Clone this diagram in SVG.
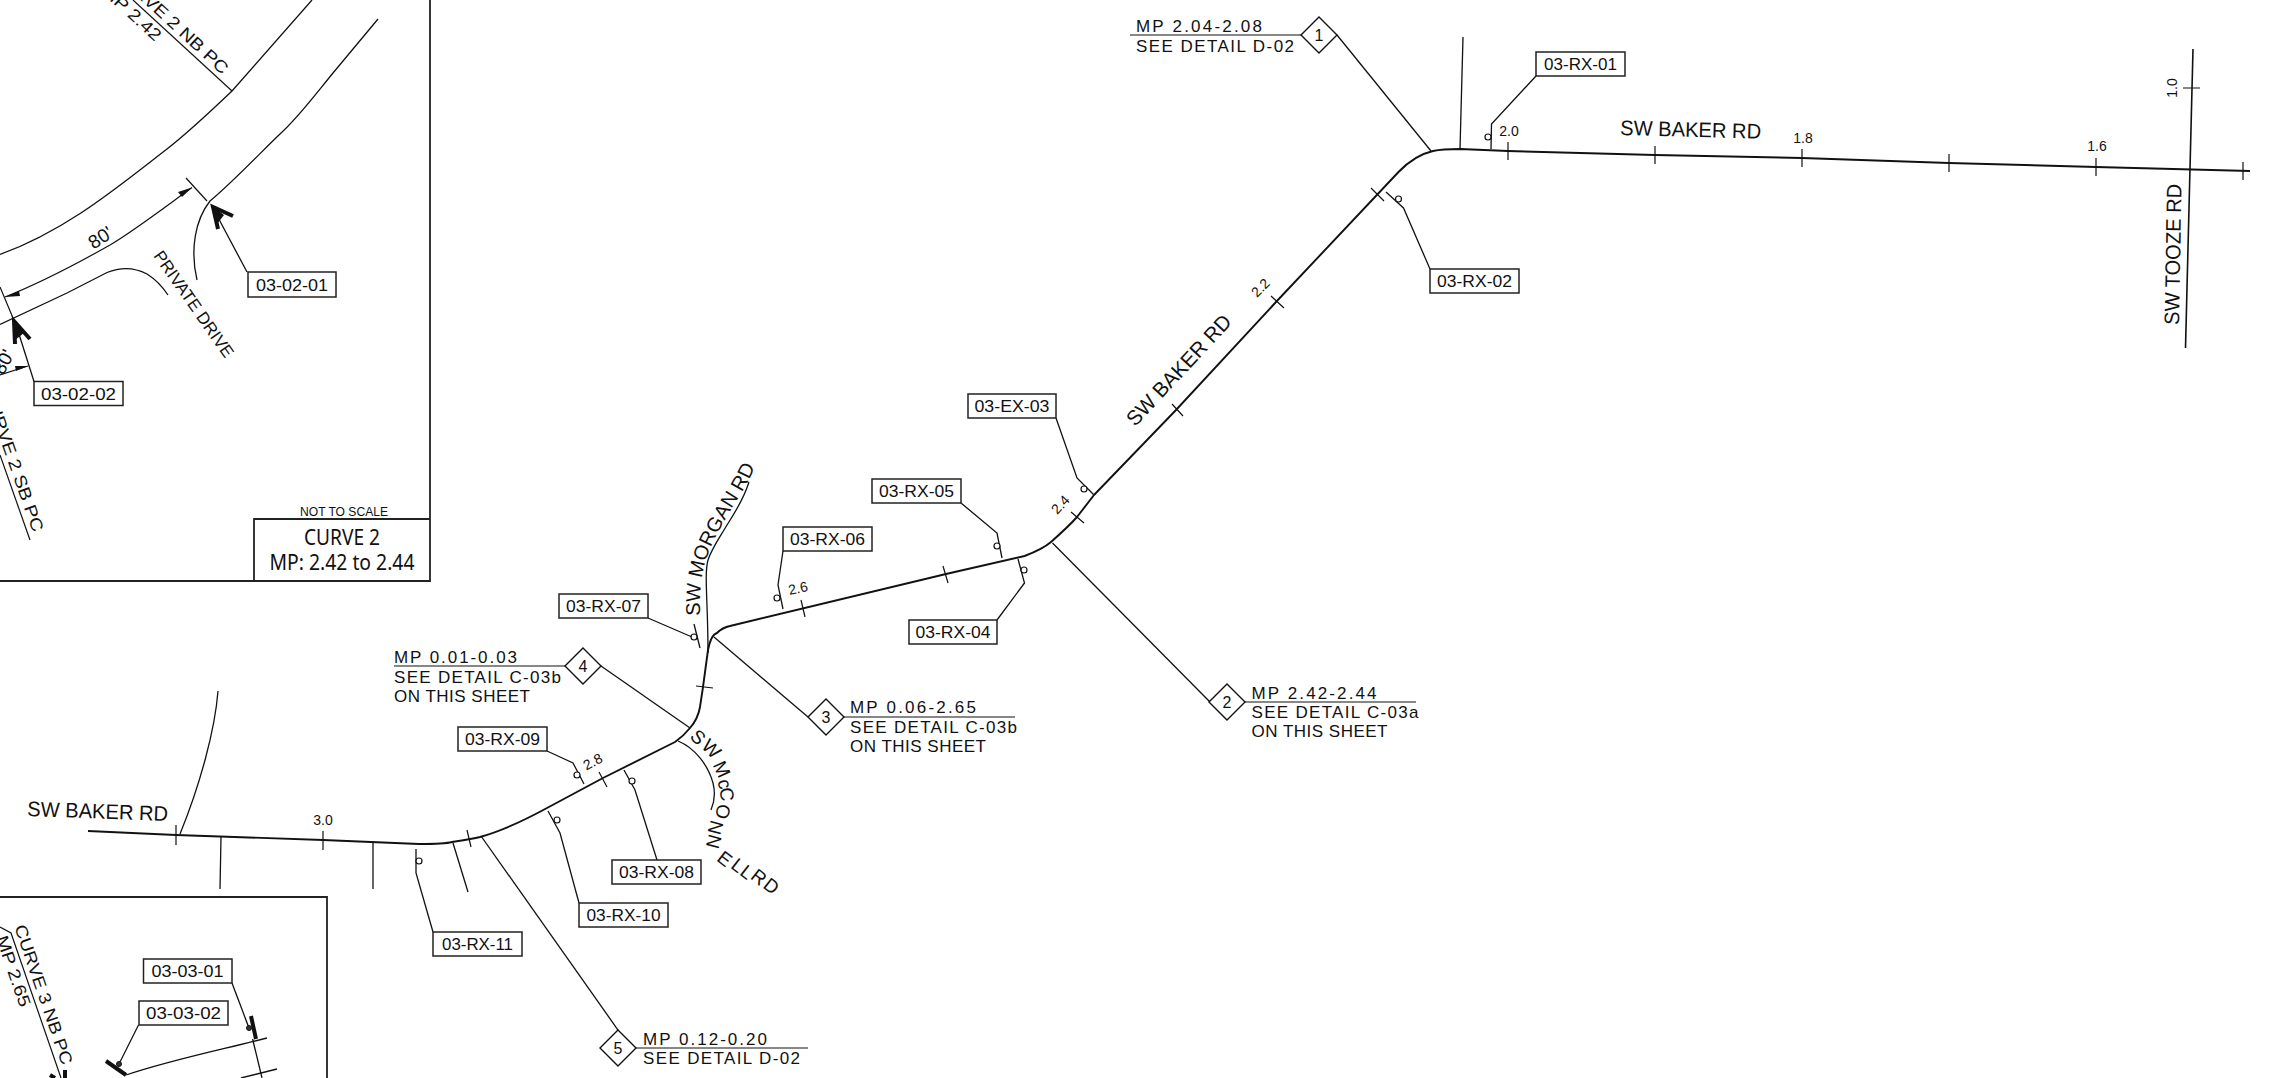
<svg xmlns="http://www.w3.org/2000/svg" width="2270" height="1078" viewBox="0 0 2270 1078">
<style>
text{font-family:"Liberation Sans",Arial,sans-serif;fill:#111}
.l{fill:none;stroke:#111;stroke-width:1.3}
.road{fill:none;stroke:#111;stroke-width:1.9;stroke-linejoin:round}
.frame{fill:none;stroke:#222;stroke-width:1.8}
.t{fill:none;stroke:#111;stroke-width:1.2}
.box{fill:#fff;stroke:#222;stroke-width:1.5}
.lab{font-size:17px;text-anchor:middle}
.note{font-size:17px}
.mp{font-size:14px;text-anchor:middle}
.rn{font-size:21px}
.c{fill:#fff;stroke:#111;stroke-width:1.2}
.dia{fill:#fff;stroke:#111;stroke-width:1.4}
.num{font-size:16px;text-anchor:middle}
.ah{fill:#111;stroke:none}
.bar{stroke:#111;stroke-width:4;fill:none}
.barb{stroke:#111;stroke-width:4;fill:none;stroke-linejoin:miter}
.big{font-family:"Noto Sans",sans-serif;text-anchor:middle}
</style>
<defs>
<path id="morganPath" d="M700 616C699 575 705 555 722 525S745 490 756 465"/>
</defs>

<g id="inset-curve-2">
<path class="frame" d="M430 0V581H0"/>
<path class="frame" d="M254 581V519H430"/>
<path class="l" d="M0 254.500C67 230 117 187.500 167 149C190 131 210 112 232 91L312 0"/>
<path class="l" d="M378 19L333 73C315 95 298 118 280 134C265 148 232 183 210 201C195 220 190 250 197 280"/>
<path class="l" d="M0 324.500L67 293L107 272.500C118 268 132 266 147 274C155 279 162 286 168 295"/>
<path class="t" d="M186 178L207 201M0 287L13 318"/>
<path class="t" d="M192 187.500C165 207 135 230 110 245C80 262 40 283 5 297"/>
<path class="ah" d="M192 187.500L178 192L182 197Z"/>
<path class="ah" d="M5 297L19 291L20 296Z"/>
<path class="t" d="M0 375L28 366"/>
<path class="ah" d="M28 366L15 366L16 371Z"/>
<text transform="translate(104 243) rotate(-33)" font-size="19" text-anchor="middle">80'</text>
<text transform="translate(15 354) rotate(-62)" font-size="19" text-anchor="end">80'</text>
<path class="t" d="M232 91L133 0"/>
<text transform="translate(222 75) rotate(42.600)" class="note" text-anchor="end" textLength="150" lengthAdjust="spacingAndGlyphs">CURVE 2 NB PC</text>
<text transform="translate(155 42) rotate(42.600)" class="note" text-anchor="end" textLength="74" lengthAdjust="spacingAndGlyphs">MP 2.42</text>
<path class="t" d="M0 455L30 540"/>
<text transform="translate(33 533) rotate(70.500)" class="note" text-anchor="end" textLength="150" lengthAdjust="spacingAndGlyphs">CURVE 2 SB PC</text>
<text transform="translate(157 253) rotate(55) translate(0 5)" font-size="17" textLength="126" lengthAdjust="spacingAndGlyphs">PRIVATE DRIVE</text>
<text x="344" y="516" font-size="13.500" style="text-anchor:middle" textLength="88" lengthAdjust="spacingAndGlyphs">NOT TO SCALE</text>
<text x="342" y="545" font-size="21" class="big" textLength="76" lengthAdjust="spacingAndGlyphs">CURVE 2</text>
<text x="342" y="570" font-size="21" class="big" textLength="145" lengthAdjust="spacingAndGlyphs">MP: 2.42 to 2.44</text>
</g>

<g id="inset-curve-3">
<path class="frame" d="M0 897H327V1078"/>
<path class="t" d="M0 927L11 933L61 1078"/>
<text transform="translate(62 1066) rotate(71)" class="note" text-anchor="end" textLength="147" lengthAdjust="spacingAndGlyphs">CURVE 3 NB PC</text>
<text transform="translate(20 1008) rotate(71)" class="note" text-anchor="end" textLength="74" lengthAdjust="spacingAndGlyphs">MP 2.65</text>
<path class="l" d="M126 1075C170 1060 220 1050 267 1038M241 1078L277 1069M252.600 1039L262 1078"/>
<path class="bar" d="M251 1016L256 1039M106 1061L126 1075M65 1070V1078M50 1075L55 1078"/>
</g>

<g id="connectors">
<path class="road" d="M88 831L176 835L323 840L419 844C430 844 445 844 452 842C465 840 472 839 480 837C505 830 525 820 547 808L603 778L675 742C682 737 686 733 690 728C696 721 699 713 700 707L703 687L708 650C710 640 713 634 717 633C720 630 725 627 730 626L946 574L1024.600 556C1035 552 1044 548 1051 542C1060 534 1070 525 1077 517L1094 495L1176 410L1276 302L1398.500 172C1410 160 1420 154 1433 151C1442 149 1450 149 1460 149L1508 151L1655 155L1802 158L1949 163L2096 167L2250 171"/>
<path class="road" d="M2193 49L2185.500 348" style="stroke-width:1.600"/>
<g class="t">
<path d="M176 825V845M323 831V850M467 830L471 847M599 772L607 787M696 686L713 688M801 600L805 617M943 566L948 583M1071 512L1084 523M1172 404L1183 416M1271 296L1284 308M1371 188L1384 201M1508 142V160M1655 146V164M1802 149V167M1949 154V172M2096 158V176M2243 162V180M2183 88H2200"/>
</g>
<path class="l" d="M218 691C215 730 200 785 180 834M221 837L220 889M373 842V889M453 843L468 892"/>
<path class="l" d="M749 482C745 495 740 505 727 525C720 537 712 548 708 560C704 575 708 600 708 653"/>
<path class="l" d="M678 741C695 748 708 765 713 783C716 795 714 803 711 810"/>
<path class="l" d="M1463 37L1460 149"/>
<path class="l" d="M648 618L692 637M694 624L700 648"/>
<path class="l" d="M783 551L778 585L783 609"/>
<path class="l" d="M547 751L573 763L584 784"/>
<path class="l" d="M657 860L635 790L624 770"/>
<path class="l" d="M579 903L560 833L548 811"/>
<path class="l" d="M433 932L416 873V849"/>
<path class="l" d="M1536 76L1491.500 124L1491 149"/>
<path class="l" d="M1430 269L1403.500 208L1386 192"/>
<path class="l" d="M1056 418L1077 478L1094 495"/>
<path class="l" d="M961 503L997 533L1002 558"/>
<path class="l" d="M997 620L1024.500 583L1018 559"/>
<path class="l" d="M481 836L618 1030"/>
<path class="l" d="M601 666L690 728"/>
<path class="l" d="M714 637L808 717"/>
<path class="l" d="M1052.500 543L1210 702"/>
<path class="l" d="M1337 35L1431 151"/>
<path class="l" d="M232 983L249 1028"/>
<path class="l" d="M138.500 1025L119 1064"/>
<path class="l" d="M247 272L213 208"/>
<path class="l" d="M34 381.500L15 321.500"/>
<path class="barb" d="M233 216L213 207L218 229"/>
<path class="ah" d="M211 205L224 215L217 224Z"/>
<path class="barb" d="M30 339L14 321L15 344"/>
<path class="ah" d="M13 319L24 333L15 340Z"/>
<g id="stake-circles">
<circle class="c" cx="694" cy="637" r="3"/>
<circle class="c" cx="777" cy="598" r="3"/>
<circle class="c" cx="577" cy="775" r="3"/>
<circle class="c" cx="632" cy="781" r="3"/>
<circle class="c" cx="557" cy="820" r="3"/>
<circle class="c" cx="419" cy="861" r="3"/>
<circle class="c" cx="1488" cy="137" r="3"/>
<circle class="c" cx="1398.500" cy="199" r="3"/>
<circle class="c" cx="1084" cy="489" r="3"/>
<circle class="c" cx="997" cy="546" r="3"/>
<circle class="c" cx="1024" cy="570" r="3"/>
<circle cx="249" cy="1028" r="2.500" fill="#333" stroke="#111"/>
<circle cx="119" cy="1064" r="2.500" fill="#333" stroke="#111"/>
</g>
</g>

<g id="road-labels">
<text class="rn" x="1620" y="135" transform="rotate(1.500 1620 135)" textLength="141" lengthAdjust="spacingAndGlyphs">SW BAKER RD</text>
<text class="rn" x="27" y="816" transform="rotate(2 27 816)" textLength="141" lengthAdjust="spacingAndGlyphs">SW BAKER RD</text>
<text class="rn" text-anchor="middle" transform="translate(1184 375) rotate(-47)" textLength="143" lengthAdjust="spacingAndGlyphs">SW BAKER RD</text>
<text class="rn" transform="translate(2179 325) rotate(-89)" textLength="141" lengthAdjust="spacingAndGlyphs">SW TOOZE RD</text>
<text font-size="20"><textPath href="#morganPath">SW MORGAN RD</textPath></text>
<text font-size="19" x="688.900 700.400 709 712.600 717.200 719.700 717.700 711 709.300 715.700 729.800 738.800 745 749.600 762" y="737.200 746.900 758 764.800 781 788.100 803.200 819.300 833.300 859.900 867.200 873.900 876 878 887" rotate="45 45 50 65 75 85 100 105 105 38 38 38 38 38 38">SW McCONNELL RD</text>
<text class="mp" x="1509" y="136">2.0</text>
<text class="mp" x="1803" y="143">1.8</text>
<text class="mp" x="2097" y="151">1.6</text>
<text class="mp" x="323" y="825">3.0</text>
<text class="mp" transform="translate(2177 88) rotate(-90)">1.0</text>
<text class="mp" transform="translate(1264 291) rotate(-45)">2.2</text>
<text class="mp" transform="translate(1064 508) rotate(-47)">2.4</text>
<text class="mp" transform="translate(799 593) rotate(-12)">2.6</text>
<text class="mp" transform="translate(595 766) rotate(-27)">2.8</text>
</g>

<g id="n03-RX-01"><rect class="box" x="1536" y="52" width="89" height="24"/><text class="lab" x="1580.500" y="70" textLength="73" lengthAdjust="spacingAndGlyphs">03-RX-01</text></g>
<g id="n03-RX-02"><rect class="box" x="1430" y="269" width="89" height="24"/><text class="lab" x="1474.500" y="287" textLength="75" lengthAdjust="spacingAndGlyphs">03-RX-02</text></g>
<g id="n03-EX-03"><rect class="box" x="968" y="394" width="88" height="24"/><text class="lab" x="1012" y="412" textLength="75" lengthAdjust="spacingAndGlyphs">03-EX-03</text></g>
<g id="n03-RX-05"><rect class="box" x="872" y="479" width="89" height="24"/><text class="lab" x="916.500" y="497" textLength="75" lengthAdjust="spacingAndGlyphs">03-RX-05</text></g>
<g id="n03-RX-04"><rect class="box" x="909" y="620" width="88" height="24"/><text class="lab" x="953" y="638" textLength="75" lengthAdjust="spacingAndGlyphs">03-RX-04</text></g>
<g id="n03-RX-06"><rect class="box" x="783" y="527" width="89" height="24"/><text class="lab" x="827.500" y="545" textLength="75" lengthAdjust="spacingAndGlyphs">03-RX-06</text></g>
<g id="n03-RX-07"><rect class="box" x="559" y="594" width="89" height="24"/><text class="lab" x="603.500" y="612" textLength="75" lengthAdjust="spacingAndGlyphs">03-RX-07</text></g>
<g id="n03-RX-09"><rect class="box" x="458" y="727" width="89" height="24"/><text class="lab" x="502.500" y="745" textLength="75" lengthAdjust="spacingAndGlyphs">03-RX-09</text></g>
<g id="n03-RX-08"><rect class="box" x="612" y="860" width="89" height="24"/><text class="lab" x="656.500" y="878" textLength="75" lengthAdjust="spacingAndGlyphs">03-RX-08</text></g>
<g id="n03-RX-10"><rect class="box" x="579" y="903" width="89" height="24"/><text class="lab" x="623.500" y="921" textLength="74" lengthAdjust="spacingAndGlyphs">03-RX-10</text></g>
<g id="n03-RX-11"><rect class="box" x="433" y="932" width="89" height="24"/><text class="lab" x="477.500" y="950" textLength="71" lengthAdjust="spacingAndGlyphs">03-RX-11</text></g>
<g id="n03-02-01"><rect class="box" x="248" y="272" width="88" height="25"/><text class="lab" x="292" y="291" textLength="72" lengthAdjust="spacingAndGlyphs">03-02-01</text></g>
<g id="n03-02-02"><rect class="box" x="34" y="381.500" width="89" height="24"/><text class="lab" x="78.500" y="400" textLength="75" lengthAdjust="spacingAndGlyphs">03-02-02</text></g>
<g id="n03-03-01"><rect class="box" x="143.500" y="959" width="88.500" height="24"/><text class="lab" x="187.500" y="977" textLength="72" lengthAdjust="spacingAndGlyphs">03-03-01</text></g>
<g id="n03-03-02"><rect class="box" x="139" y="1001" width="89" height="24"/><text class="lab" x="183.500" y="1019" textLength="75" lengthAdjust="spacingAndGlyphs">03-03-02</text></g>

<g id="note-1">
<path class="t" d="M1130 35H1302"/>
<path class="dia" d="M1319 17L1337 35L1319 53L1301 35Z"/>
<text class="num" x="1319" y="41">1</text>
<text class="note" x="1136" y="32" textLength="126">MP 2.04-2.08</text>
<text class="note" x="1136" y="52" textLength="158">SEE DETAIL D-02</text>
</g>
<g id="note-2">
<path class="t" d="M1245 702H1416"/>
<path class="dia" d="M1227 684L1245 702L1227 720L1209 702Z"/>
<text class="num" x="1227" y="708">2</text>
<text class="note" x="1251.500" y="699" textLength="125">MP 2.42-2.44</text>
<text class="note" x="1251.500" y="718" textLength="167">SEE DETAIL C-03a</text>
<text class="note" x="1251.500" y="737" textLength="136">ON THIS SHEET</text>
</g>
<g id="note-3">
<path class="t" d="M844 717H1015"/>
<path class="dia" d="M826 699L844 717L826 735L808 717Z"/>
<text class="num" x="826" y="723">3</text>
<text class="note" x="850" y="713" textLength="126">MP 0.06-2.65</text>
<text class="note" x="850" y="733" textLength="167">SEE DETAIL C-03b</text>
<text class="note" x="850" y="752" textLength="136">ON THIS SHEET</text>
</g>
<g id="note-4">
<path class="t" d="M394 666H565"/>
<path class="dia" d="M583 648L601 666L583 684L565 666Z"/>
<text class="num" x="583" y="672">4</text>
<text class="note" x="394" y="663" textLength="123">MP 0.01-0.03</text>
<text class="note" x="394" y="683" textLength="167">SEE DETAIL C-03b</text>
<text class="note" x="394" y="702" textLength="136">ON THIS SHEET</text>
</g>
<g id="note-5">
<path class="t" d="M636 1048H808"/>
<path class="dia" d="M618 1030L636 1048L618 1066L600 1048Z"/>
<text class="num" x="618" y="1054">5</text>
<text class="note" x="643" y="1045" textLength="124">MP 0.12-0.20</text>
<text class="note" x="643" y="1064" textLength="157">SEE DETAIL D-02</text>
</g>
</svg>
